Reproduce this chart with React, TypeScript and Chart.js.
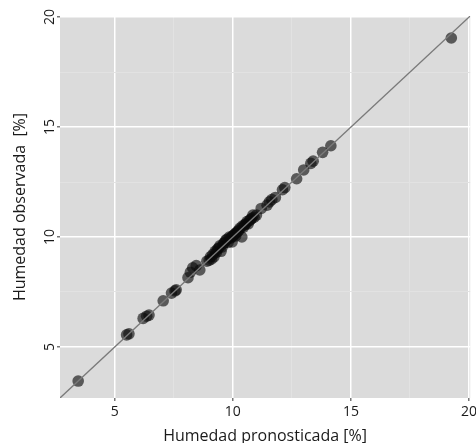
import React, { useEffect, useRef } from "react";
import { Chart, registerables } from "chart.js";

Chart.register(...registerables);

// Axis limits and ticks
const AXIS_MIN = 2.68;
const AXIS_MAX = 20.05;
const MAJOR_TICKS = [5, 10, 15, 20];
const MINOR_TICKS = [7.5, 12.5, 17.5];

// Predicted (x) vs observed (y) humidity [%]
const predicted = [
  3.45, 5.5, 5.6, 6.2, 6.35, 6.45, 7.05, 7.4, 7.55, 7.6,
  8.1, 8.2, 8.3, 8.45, 8.6, 8.9, 9.0, 9.05, 9.15, 9.2,
  9.3, 9.35, 9.4, 9.5, 9.55, 9.6, 9.65, 9.7, 9.8, 9.9,
  9.95, 9.97, 10.0, 10.05, 10.1, 10.15, 10.2, 10.25, 10.3, 10.38,
  10.4, 10.5, 10.55, 10.6, 10.7, 10.8, 10.9, 11.0, 11.2, 11.45,
  11.55, 11.65, 11.8, 12.1, 12.2, 12.7, 13.0, 13.3, 13.4, 13.8,
  14.15, 19.25,
  9.1, 9.25, 9.45, 9.75, 10.45, 10.65, 10.75, 10.85, 9.85, 10.12,
];
const observed = [
  3.45, 5.55, 5.6, 6.3, 6.4, 6.45, 7.1, 7.45, 7.55, 7.6,
  8.15, 8.4, 8.6, 8.7, 8.5, 8.9, 8.95, 9.1, 9.2, 9.1,
  9.3, 9.45, 9.5, 9.35, 9.55, 9.7, 9.75, 9.85, 9.75, 9.95,
  10.0, 9.78, 10.05, 10.1, 10.15, 10.2, 10.25, 10.3, 10.4, 10.0,
  10.5, 10.55, 10.6, 10.7, 10.75, 10.85, 10.9, 11.0, 11.3, 11.45,
  11.6, 11.7, 11.8, 12.15, 12.25, 12.65, 13.05, 13.35, 13.45, 13.85,
  14.15, 19.05,
  9.0, 9.35, 9.6, 9.9, 10.45, 10.6, 10.8, 11.0, 10.0, 10.05,
];

const X_TITLE = "Humedad pronosticada [%]";
const Y_TITLE = "Humedad observada  [%]";

const FONT = "'Open Sans', 'DejaVu Sans', sans-serif";

export default function App() {
  const ref = useRef<HTMLCanvasElement | null>(null);

  useEffect(() => {
    if (!ref.current) return;
    const tickValues = [...MAJOR_TICKS, ...MINOR_TICKS].sort((a, b) => a - b);
    const isMajor = (v: number) => MAJOR_TICKS.includes(v);

    const bgPlugin = {
      id: "panelBg",
      beforeDraw(chart: any) {
        const { ctx, chartArea } = chart;
        ctx.save();
        ctx.fillStyle = "#dbdbdb";
        ctx.fillRect(chartArea.left, chartArea.top, chartArea.right - chartArea.left, chartArea.bottom - chartArea.top);
        ctx.restore();
      },
    };

    const labelPlugin = {
      id: "tickLabels",
      afterDraw(chart: any) {
        const { ctx, chartArea } = chart;
        const ys = chart.scales.y;
        const xs = chart.scales.x;
        ctx.save();
        ctx.fillStyle = "#1a1a1a";
        ctx.font = `14px ${FONT}`;
        ctx.textAlign = "center";
        ctx.textBaseline = "middle";
        MAJOR_TICKS.forEach((v) => {
          const py = ys.getPixelForValue(v);
          ctx.save();
          ctx.translate(50, py);
          ctx.rotate(-Math.PI / 2);
          ctx.fillText(String(v), 0, 0);
          ctx.restore();
          const px = xs.getPixelForValue(v);
          ctx.fillText(String(v), px, chartArea.bottom + 14);
        });
        ctx.restore();
      },
    };

    const gridOpts = {
      color: (c: any) => (c.tick && isMajor(c.tick.value) ? "#ffffff" : "#e2e2e2"),
      lineWidth: (c: any) => (c.tick && isMajor(c.tick.value) ? 1.5 : 1),
      tickColor: (c: any) => (c.tick && isMajor(c.tick.value) ? "#777777" : "rgba(0,0,0,0)"),
      tickLength: 3,
      drawTicks: true,
    };

    const chart = new Chart(ref.current, {
      type: "scatter",
      data: {
        datasets: [
          {
            type: "line",
            data: [
              { x: AXIS_MIN, y: AXIS_MIN },
              { x: AXIS_MAX, y: AXIS_MAX },
            ],
            borderColor: "#7a7a7a",
            borderWidth: 1.3,
            pointRadius: 0,
            fill: false,
          } as any,
          {
            data: predicted.map((x, i) => ({ x, y: observed[i] })),
            backgroundColor: "rgba(10,10,10,0.62)",
            borderWidth: 0,
            pointRadius: 5.8,
          },
        ],
      },
      options: {
        responsive: false,
        animation: false,
        layout: { padding: { top: 16, right: 4, left: 0, bottom: 0 } },
        plugins: { legend: { display: false }, tooltip: { enabled: false } },
        scales: {
          x: {
            type: "linear",
            min: AXIS_MIN,
            max: AXIS_MAX,
            border: { display: false },
            afterBuildTicks: (s: any) => {
              s.ticks = tickValues.map((v) => ({ value: v }));
            },
            afterFit: (s: any) => {
              s.height = 45;
            },
            grid: gridOpts as any,
            ticks: { display: false, autoSkip: false },
            title: {
              display: true,
              text: X_TITLE,
              color: "#1a1a1a",
              font: { family: FONT, size: 16, lineHeight: 1 },
              padding: { top: 0, bottom: -1 },
            },
          },
          y: {
            type: "linear",
            min: AXIS_MIN,
            max: AXIS_MAX,
            border: { display: false },
            afterBuildTicks: (s: any) => {
              s.ticks = tickValues.map((v) => ({ value: v }));
            },
            afterFit: (s: any) => {
              s.width = 60;
            },
            grid: gridOpts as any,
            ticks: { display: false, autoSkip: false },
            title: {
              display: true,
              text: Y_TITLE,
              color: "#1a1a1a",
              font: { family: FONT, size: 16, lineHeight: 1 },
              padding: { top: 12, bottom: 0 },
            },
          },
        },
      },
      plugins: [bgPlugin, labelPlugin],
    });
    return () => chart.destroy();
  }, []);

  return (
    <div style={{ position: "absolute", left: 0, top: 0, width: 476, height: 443, background: "#fff" }}>
      <canvas ref={ref} width={476} height={443} style={{ width: 476, height: 443 }} />
    </div>
  );
}
